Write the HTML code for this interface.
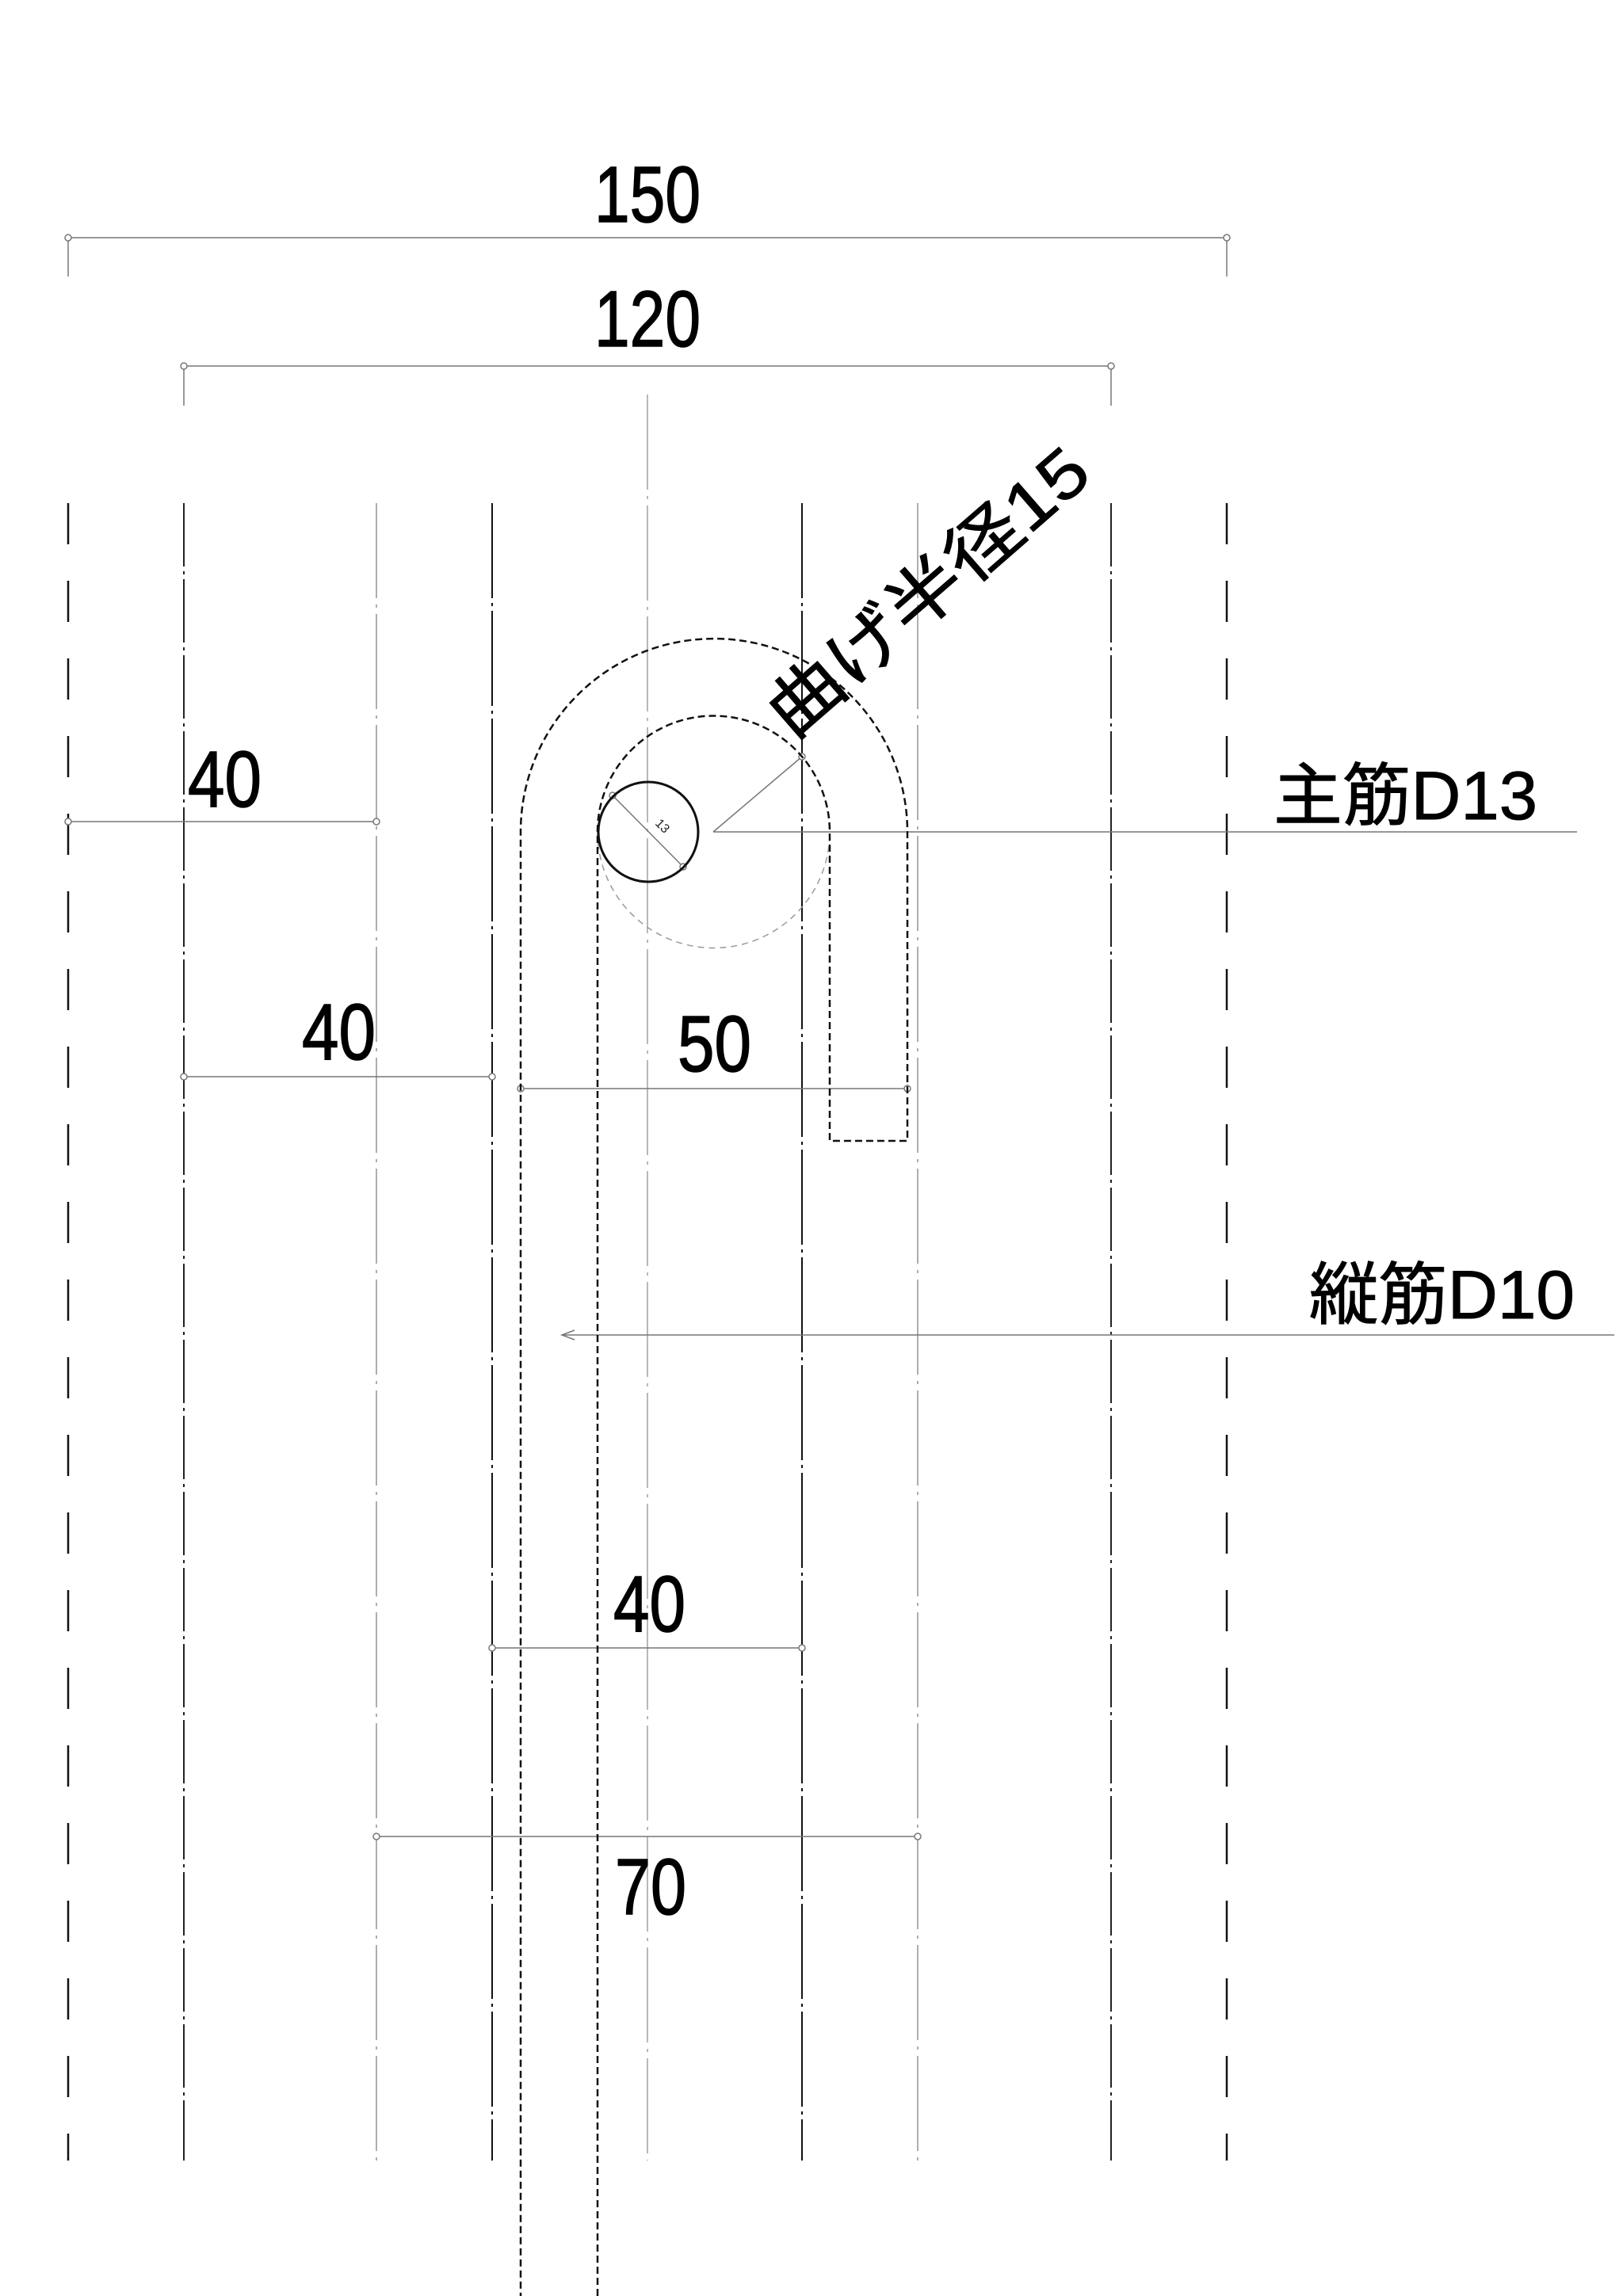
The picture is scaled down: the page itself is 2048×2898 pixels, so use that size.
<!DOCTYPE html>
<html><head><meta charset="utf-8"><style>html,body{margin:0;padding:0;background:#fff}svg{display:block}</style></head>
<body>
<svg width="2048" height="2898" viewBox="0 0 2048 2898" xmlns="http://www.w3.org/2000/svg" font-family="'Liberation Sans','Noto Sans CJK JP',sans-serif">
<rect width="2048" height="2898" fill="#fff"/>
<g fill="none">
<line x1="86" y1="635" x2="86" y2="2727" stroke="#111" stroke-width="2.5" stroke-dasharray="52,46"/>
<line x1="1548" y1="635" x2="1548" y2="2727" stroke="#111" stroke-width="2.5" stroke-dasharray="52,46"/>
<line x1="232" y1="635" x2="232" y2="2727" stroke="#222" stroke-width="2" stroke-dasharray="80,6,4,6"/>
<line x1="1402" y1="635" x2="1402" y2="2727" stroke="#222" stroke-width="2" stroke-dasharray="80,6,4,6"/>
<line x1="621" y1="635" x2="621" y2="2727" stroke="#111" stroke-width="2" stroke-dasharray="120,6,4,6"/>
<line x1="1012" y1="635" x2="1012" y2="2727" stroke="#111" stroke-width="2" stroke-dasharray="120,6,4,6"/>
<line x1="475" y1="635" x2="475" y2="2727" stroke="#777" stroke-width="1.2" stroke-dasharray="120,8,4,8"/>
<line x1="1158" y1="635" x2="1158" y2="2727" stroke="#777" stroke-width="1.2" stroke-dasharray="120,8,4,8"/>
<line x1="817" y1="498" x2="817" y2="2727" stroke="#888" stroke-width="1.2" stroke-dasharray="120,8,4,8"/>
</g>
<g stroke="#777" stroke-width="1.5" fill="#fff">
<line x1="86" y1="300" x2="1548" y2="300"/><line x1="86" y1="300" x2="86" y2="349"/><line x1="1548" y1="300" x2="1548" y2="349"/>
<circle cx="86" cy="300" r="4"/><circle cx="1548" cy="300" r="4"/>
<line x1="232" y1="462" x2="1402" y2="462"/><line x1="232" y1="462" x2="232" y2="512"/><line x1="1402" y1="462" x2="1402" y2="512"/>
<circle cx="232" cy="462" r="4"/><circle cx="1402" cy="462" r="4"/>
<line x1="86" y1="1037" x2="475" y2="1037"/><circle cx="86" cy="1037" r="4"/><circle cx="475" cy="1037" r="4"/>
<line x1="232" y1="1359" x2="621" y2="1359"/><circle cx="232" cy="1359" r="4"/><circle cx="621" cy="1359" r="4"/>
<line x1="657" y1="1374" x2="1145" y2="1374"/><circle cx="657" cy="1374" r="4"/><circle cx="1145" cy="1374" r="4"/>
<line x1="621" y1="2080" x2="1012" y2="2080"/><circle cx="621" cy="2080" r="4"/><circle cx="1012" cy="2080" r="4"/>
<line x1="475" y1="2318" x2="1158" y2="2318"/><circle cx="475" cy="2318" r="4"/><circle cx="1158" cy="2318" r="4"/>
<line x1="900" y1="1050" x2="1990" y2="1050"/>
<line x1="709" y1="1685" x2="2037" y2="1685"/>
<polyline points="725,1679 709,1685 725,1691" fill="none"/>
<line x1="900" y1="1050" x2="1012" y2="955"/><circle cx="1012" cy="955" r="4"/>
<line x1="773" y1="1004" x2="862" y2="1094"/><circle cx="773" cy="1004" r="4"/><circle cx="862" cy="1094" r="4"/>
</g>
<path d="M754,1050 A146,146 0 0,0 1047,1050" fill="none" stroke="#999" stroke-width="1.5" stroke-dasharray="8,6"/>
<path d="M754,2898 L754,1050 A146.5,146.5 0 0,1 1047,1050 L1047,1440 L1145,1440 L1145,1050 A244,244 0 0,0 657,1050 L657,2898" fill="none" stroke="#111" stroke-width="2.5" stroke-dasharray="9,5"/>
<circle cx="818" cy="1050" r="63" fill="none" stroke="#111" stroke-width="3"/>
<text x="0" y="0" font-size="16" transform="translate(826,1040) rotate(45)" fill="#222">13</text>
<g fill="#000" stroke="#000" stroke-width="1.5" font-size="100">
<text x="817" y="280" text-anchor="middle" textLength="134" lengthAdjust="spacingAndGlyphs">150</text>
<text x="817" y="437" text-anchor="middle" textLength="134" lengthAdjust="spacingAndGlyphs">120</text>
<text x="237" y="1018" textLength="93" lengthAdjust="spacingAndGlyphs">40</text>
<text x="381" y="1337" textLength="93" lengthAdjust="spacingAndGlyphs">40</text>
<text x="855" y="1352" textLength="93" lengthAdjust="spacingAndGlyphs">50</text>
<text x="774" y="2059" textLength="91" lengthAdjust="spacingAndGlyphs">40</text>
<text x="776" y="2416" textLength="90" lengthAdjust="spacingAndGlyphs">70</text>
</g>
<g fill="#000" stroke="#000" stroke-width="1" font-size="86">
<text x="1607" y="1034" textLength="333" lengthAdjust="spacingAndGlyphs">主筋D13</text>
<text x="1652" y="1664" textLength="335" lengthAdjust="spacingAndGlyphs">縦筋D10</text>
<text x="0" y="0" transform="translate(1000,935) rotate(-41)" textLength="505" lengthAdjust="spacingAndGlyphs">曲げ半径15</text>
</g>
</svg>
</body></html>
